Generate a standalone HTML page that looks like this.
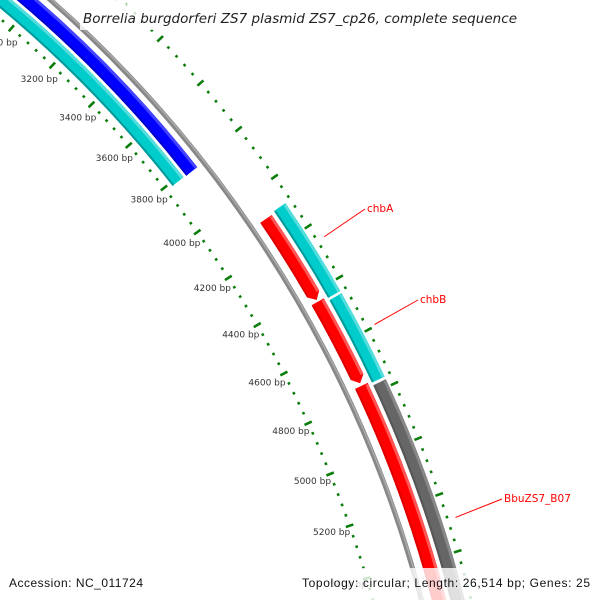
<!DOCTYPE html>
<html><head><meta charset="utf-8"><style>
html,body{margin:0;padding:0;background:#fff;width:600px;height:600px;overflow:hidden}
svg{display:block}
text{font-family:"DejaVu Sans","Liberation Sans",sans-serif}
</style></head><body>
<svg id="map" width="600" height="600" viewBox="0 0 600 600" xmlns="http://www.w3.org/2000/svg">
<defs><clipPath id="frame"><rect width="600" height="600"/></clipPath></defs>
<rect width="600" height="600" fill="#fff"/>
<g clip-path="url(#frame)">
<g id="ticks"></g>
<g id="features"></g>
<g id="labels"></g>
</g>
<rect x="80" y="4" width="442" height="26" fill="rgba(255,255,255,0.8)"/>
<text x="300" y="23" text-anchor="middle" font-size="13.5" font-style="italic" fill="#222" textLength="434">Borrelia burgdorferi ZS7 plasmid ZS7_cp26, complete sequence</text>
<rect x="298" y="568" width="302" height="32" fill="rgba(255,255,255,0.8)"/>
<text x="9" y="587" font-size="12" fill="#111" textLength="134" style="font-family:'Liberation Sans',sans-serif">Accession: NC_011724</text>
<text x="302" y="587" font-size="12" fill="#111" textLength="288" style="font-family:'Liberation Sans',sans-serif">Topology: circular; Length: 26,514 bp; Genes: 25</text>
</svg>
<script>
const genomeLength = 26514;
const tickMajorStep = 200;
const tickMinorStep = 40;
const tickRange = [2400, 5600];
const featureNames = ["gene-left-cyan","gene-left-blue","chbA-cds","chbB-cds","BbuZS7_B07-cds","red-gene-1","red-gene-2","red-gene-3"];
const featureStarts = [2000, 2000, 4093, 4450, 4775, 4100, 4435, 4760];
const featureEnds = [3813, 3815, 4441, 4765, 5600, 4428, 4750, 5600];
const featureTracks = ["innerB","innerA","outer","outer","outer","mid","mid","mid"];
const featureColors = ["#00cccc","#0000ff","#00cccc","#00cccc","#666666","#ff0000","#ff0000","#ff0000"];
const featureArrow = [false,false,false,false,false,true,true,true];
const labelTexts = ["chbA","chbB","BbuZS7_B07"];
const labelBp = [4258, 4594, 5290];

const NS="http://www.w3.org/2000/svg";
const CX=-752, CY=911;
const trackR={innerB:1182, innerA:1199, mid:1231, outer:1249};
const TW=14;
function ang(bp){return (-90+bp*360/genomeLength+0.12)*Math.PI/180;}
function pt(r,bp){const a=ang(bp);return [CX+r*Math.cos(a),CY+r*Math.sin(a)];}
function mk(tag,attrs,parent){const e=document.createElementNS(NS,tag);for(const k in attrs)e.setAttribute(k,attrs[k]);parent.appendChild(e);return e;}
function arcPath(r,b0,b1){const p0=pt(r,b0),p1=pt(r,b1);return `M${p0[0]},${p0[1]} A${r},${r} 0 0 1 ${p1[0]},${p1[1]}`;}

const tg=document.getElementById('ticks');
const fg=document.getElementById('features');
const lg=document.getElementById('labels');

let bb=mk('path',{d:arcPath(1214,1500,5600),stroke:'#888',"stroke-width":5,fill:'none'},fg);


let bb2=mk('path',{d:arcPath(1215,1500,5600),stroke:'#aaa',"stroke-width":1.5,fill:'none'},fg);



for(let bp=tickRange[0];bp<=tickRange[1];bp+=tickMinorStep){
  const major=bp%tickMajorStep===0;
  [[1167,'inner'],[1262,'outer']].forEach(([r,w])=>{
    const h=major?4:1.3;
    const a=pt(r-h,bp),b=pt(r+h,bp);
    const l=mk('line',{x1:a[0],y1:a[1],x2:b[0],y2:b[1],stroke:'#0a7d0a',"stroke-width":2.6},tg);
    
    
  });
  if(major){
    const p=pt(1148,bp);
    const t=mk('text',{x:p[0],y:p[1]+3,"text-anchor":"middle","font-size":"9",fill:'#333'},tg);
    t.textContent=bp+' bp';
    
    
  }
}

function lighten(c){return {"#00cccc":"#55dddd","#0000ff":"#4444ff","#666666":"#888888","#ff0000":"#ff5555"}[c]||c;}
function darken(c){return {"#00cccc":"#009999","#0000ff":"#0000cc","#666666":"#555555","#ff0000":"#dd0000"}[c]||c;}
for(let i=0;i<featureNames.length;i++){
  const r=trackR[featureTracks[i]], r0=r-TW/2, r1=r+TW/2;
  const s=featureStarts[i], e=featureEnds[i];
  let d;
  if(featureArrow[i]){
    const head=7/r*genomeLength/(2*Math.PI);
    const em=e-head;
    const a=pt(r1,s),b=pt(r1,em),tip=pt(r,e),c=pt(r0,em),f=pt(r0,s);
    d=`M${a[0]},${a[1]} A${r1},${r1} 0 0 1 ${b[0]},${b[1]} L${tip[0]},${tip[1]} L${c[0]},${c[1]} A${r0},${r0} 0 0 0 ${f[0]},${f[1]} Z`;
  }else{
    const a=pt(r1,s),b=pt(r1,e),c=pt(r0,e),f=pt(r0,s);
    d=`M${a[0]},${a[1]} A${r1},${r1} 0 0 1 ${b[0]},${b[1]} L${c[0]},${c[1]} A${r0},${r0} 0 0 0 ${f[0]},${f[1]} Z`;
  }
  const g=mk('g',{},fg);
  
  
  mk('path',{d:d,fill:featureColors[i]},g);
  const he=featureArrow[i]?e-7/r*genomeLength/(2*Math.PI):e;
  mk('path',{d:arcPath(r1-1.5,s+3,he),stroke:lighten(featureColors[i]),"stroke-width":3,fill:'none'},g);
  mk('path',{d:arcPath(r0+1,s+3,he),stroke:darken(featureColors[i]),"stroke-width":2,fill:'none'},g);
}

const labelPos=[[367,212],[420,303],[504,502]];
for(let i=0;i<labelTexts.length;i++){
  const p=pt(1270,labelBp[i]);
  const q=labelPos[i];
  const l=mk('line',{x1:p[0],y1:p[1],x2:q[0]-2,y2:q[1]-3,stroke:'#ff0000',"stroke-width":1},lg);
  
  
  const t=mk('text',{x:q[0],y:q[1],"font-size":"10.5",fill:'#ff0000'},lg);
  t.textContent=labelTexts[i];
  
  
}
</script>
</body></html>
